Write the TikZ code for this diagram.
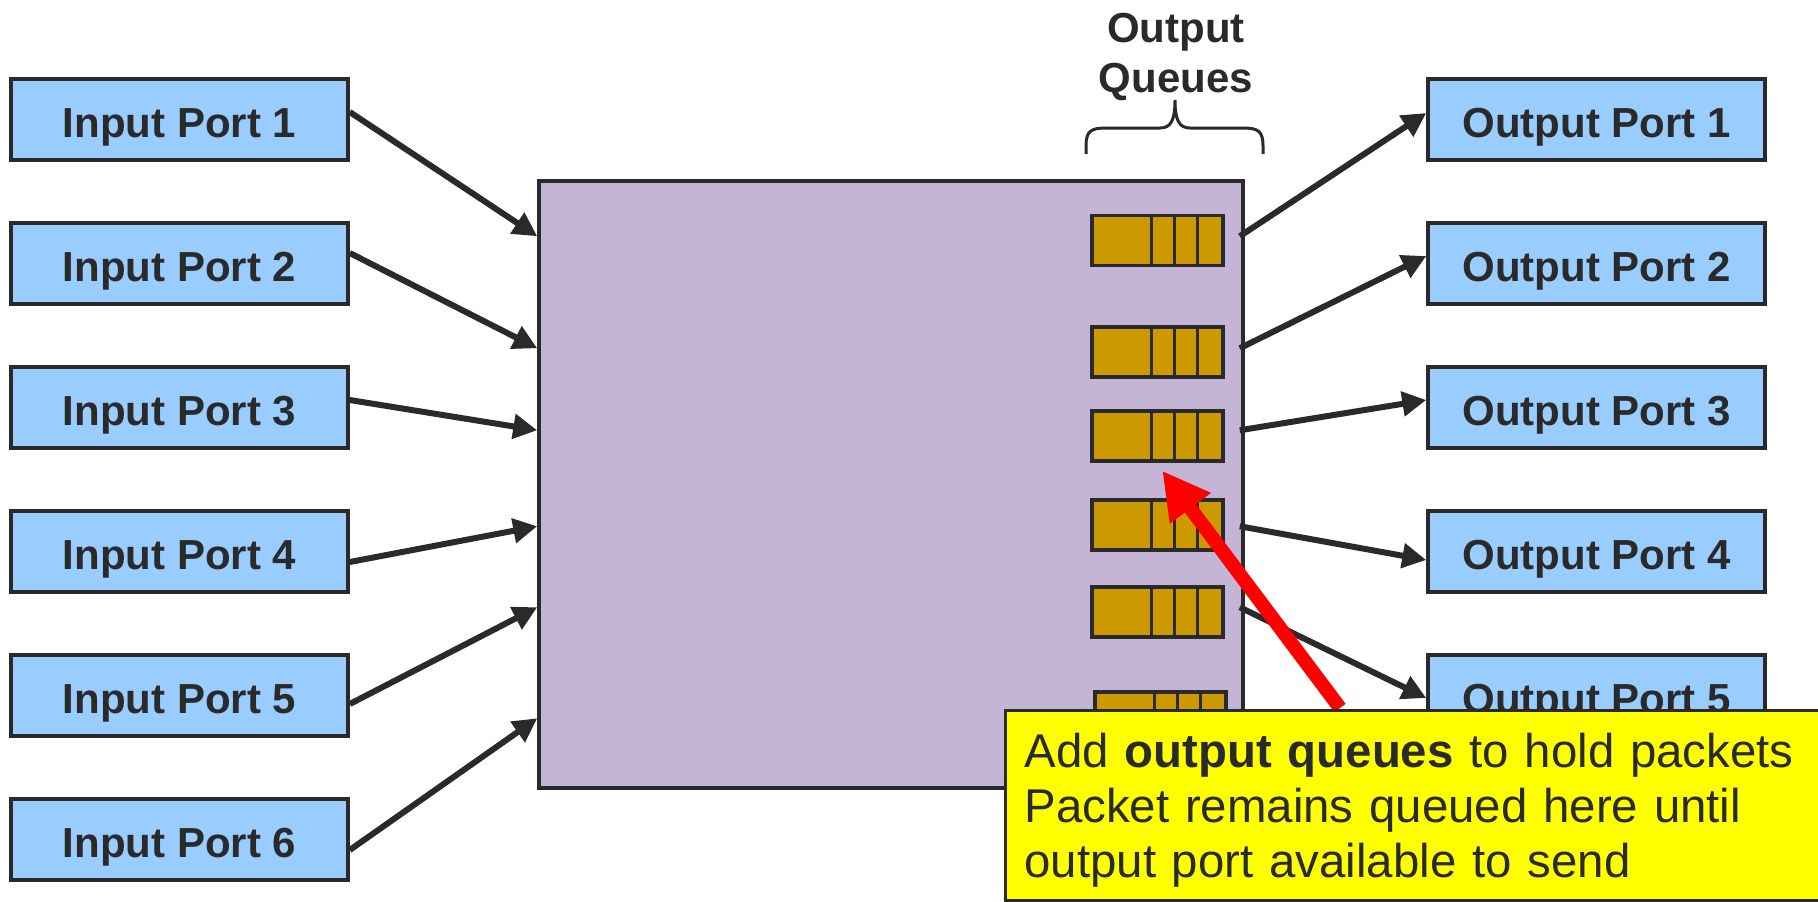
\documentclass[tikz,border=0pt]{standalone}
\usepackage{fontspec}
\setmainfont{Liberation Sans}
\usetikzlibrary{arrows.meta,calc}
\definecolor{ink}{HTML}{2A2A2A}
\definecolor{portblue}{HTML}{99CCFF}
\definecolor{switchlilac}{HTML}{C4B5D7}
\definecolor{queuegold}{HTML}{CC9900}
\definecolor{noteyellow}{HTML}{FFFF00}
\definecolor{pointred}{HTML}{FF0000}

\begin{document}
\begin{tikzpicture}[x=0.5pt,y=-0.5pt,
  port/.style={draw=ink, line width=1.75pt, fill=portblue,
    minimum width=168.5pt, minimum height=40.5pt, inner sep=0pt,
    text height=17.5pt, text depth=0pt,
    font=\bfseries\fontsize{21}{25}\selectfont, text=ink},
  switchbox/.style={draw=ink, line width=1.75pt, fill=switchlilac,
    minimum width=352pt, minimum height=303.5pt, inner sep=0pt},
  queuebox/.style={draw=ink, line width=1.75pt, fill=queuegold,
    minimum width=65.5pt, minimum height=25pt, inner sep=0pt},
  qdiv/.style={draw=ink, line width=1.75pt},
  link/.style={draw=ink, line width=3pt,
    -{Triangle[length=12pt,width=12pt]}},
  pointer/.style={draw=pointred, line width=7pt,
    -{Triangle[length=23.5pt,width=24pt]}},
  brace/.style={draw=ink, line width=1.5pt, line cap=butt},
  notebox/.style={draw=ink, line width=1.5pt, fill=noteyellow,
    minimum width=413pt, minimum height=95pt, inner sep=0pt},
  notetext/.style={inner sep=0pt, text width=395pt, align=left, text=ink,
    font=\fontsize{23.7}{27.5}\selectfont},
  headlabel/.style={inner sep=0pt, text width=120pt, align=center, text=ink,
    font=\bfseries\fontsize{21}{25}\selectfont}
]
\useasboundingbox (0,0) rectangle (1818,901);

% switch fabric
\node[switchbox] (sw) at (891,484.5) {};

% output queues inside the switch
\foreach \i/\x/\y in {1/1157.5/240.5, 2/1157.5/352, 3/1157.5/436,
                      4/1157.5/525, 5/1157.5/612, 6/1160.5/717} {
  \node[queuebox] (q\i) at (\x,\y) {};
  \foreach \dx in {61,84,107}
    \draw[qdiv] ($(q\i.north west)+(\dx,0)$) -- ($(q\i.south west)+(\dx,0)$);
}

% brace and label above the queues
\draw[brace] (1086,154) -- (1086,146)
  .. controls (1086,131) and (1091,128) .. (1106,128) -- (1160,128)
  .. controls (1171,128) and (1175,120) .. (1175,100)
  .. controls (1175,120) and (1179,128) .. (1190,128) -- (1243,128)
  .. controls (1258,128) and (1263,131) .. (1263,146) -- (1263,154);
\node[headlabel, anchor=base] (qlabel) at (1176,42) {Output\\Queues};

% input and output ports
\foreach \i in {1,...,6}
  \node[port] (in\i) at (179.5,{119.5+144*(\i-1)}) {Input Port \i};
\foreach \i in {1,...,5}
  \node[port] (out\i) at (1596.5,{119.5+144*(\i-1)}) {Output Port \i};

% attachment points on the switch sides
\foreach \i/\dy in {1/57, 2/169, 3/251, 4/347, 5/428, 6/539} {
  \coordinate (sin\i) at ($(sw.north west)+(0,\dy)$);
  \coordinate (sout\i) at ($(sw.north east)+(-5,\dy)$);
}

% links from inputs into the switch
\foreach \i/\dy in {1/-7.5, 2/-10.5, 3/-7.5, 4/10.5, 5/8.5, 6/10.5}
  \draw[link] ($(in\i.east)+(0,\dy)$) -- (sin\i);

% links from the switch to the outputs
\foreach \i/\dy in {1/-6.5, 2/-7.5, 3/-7.5, 4/8.5, 5/2.5}
  \draw[link] (sout\i) -- ($(out\i.west)+(0,\dy)$);

% callout with its pointer
\coordinate (ptip) at ($(q3.south west)+(72,8)$);
\coordinate (pbase) at (1340,708);
\draw[pointer] (pbase) -- (ptip);
\node[notebox, anchor=north west] (note) at (1004,709) {};
\node[notetext, anchor=base west] (notetxt) at (1024,767)
  {Add \textbf{output queues} to hold packets\\
   Packet remains queued here until\\
   output port available to send};
\end{tikzpicture}
\end{document}
